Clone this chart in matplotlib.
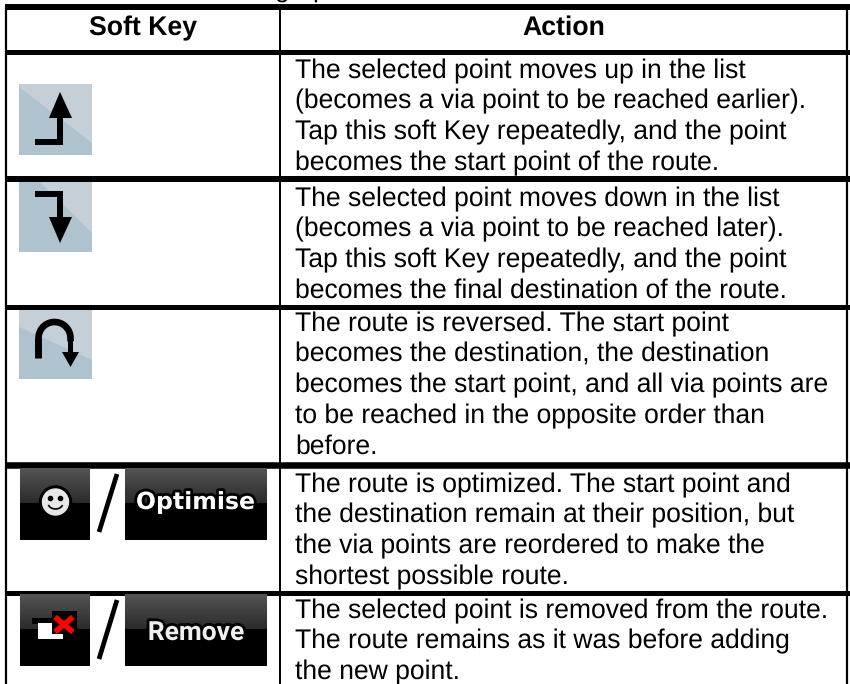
import matplotlib
matplotlib.use('Agg')
import matplotlib.pyplot as plt
import matplotlib.patheffects as pe
import numpy as np
from matplotlib.patches import Rectangle, Polygon

# Table content
headers = ['Soft Key', 'Action']
actions = [
    ['The selected point moves up in the list',
     '(becomes a via point to be reached earlier).',
     'Tap this soft Key repeatedly, and the point',
     'becomes the start point of the route.'],
    ['The selected point moves down in the list',
     '(becomes a via point to be reached later).',
     'Tap this soft Key repeatedly, and the point',
     'becomes the final destination of the route.'],
    ['The route is reversed. The start point',
     'becomes the destination, the destination',
     'becomes the start point, and all via points are',
     'to be reached in the opposite order than',
     'before.'],
    ['The route is optimized. The start point and',
     'the destination remain at their position, but',
     'the via points are reordered to make the',
     'shortest possible route.'],
    ['The selected point is removed from the route.',
     'The route remains as it was before adding',
     'the new point.'],
]
button_labels = ['Optimise', 'Remove']

plt.rcParams['font.family'] = ['Liberation Sans', 'DejaVu Sans']
plt.rcParams['text.hinting'] = 'none'

fig = plt.figure(figsize=(8.5, 6.84), dpi=100)
ax = fig.add_axes([0, 0, 1, 1])
ax.axis('off')

BLACK_HALO = [pe.withStroke(linewidth=4, foreground='black')]


def hline(y, lw):
    ax.plot([5, 850], [y, y], color='black', lw=lw, solid_capstyle='butt')


def vline(x, y0, y1, lw):
    ax.plot([x, x], [y0, y1], color='black', lw=lw, solid_capstyle='butt')


def icon_bg(x0, y0, w, h, dark_pts):
    # two tone pale blue button with a diagonal split
    ax.add_patch(Rectangle((x0, y0), w, h, color='#c4cfd8', lw=0))
    ax.add_patch(Polygon(dark_pts, color='#aec3ce', lw=0))


def dark_button(x0, y0, w, h):
    grad = np.linspace(0.33, 0.17, 32).reshape(-1, 1)
    ax.imshow(grad, extent=[x0, x0 + w, y0 + h * 0.48, y0], cmap='gray', vmin=0, vmax=1, aspect='auto', zorder=2)
    ax.add_patch(Rectangle((x0, y0 + h * 0.48), w, h * 0.52, color='black', lw=0, zorder=2))


def slash(x0, y0, h):
    ax.plot([x0, x0 + 18], [y0 + h, y0], color='black', lw=3.4, zorder=3, solid_capstyle='butt')


# cut off text above the table
ax.text(275, -2.5, 'g', fontsize=19, va='baseline', ha='left', color='black')
ax.text(312, -2.5, 'p', fontsize=19, va='baseline', ha='left', color='black')

# rules
hline(6.5, 4.3)
hline(51.5, 3.6)
hline(179, 4.3)
hline(306.5, 3.6)
hline(465, 4.7)
hline(592.5, 3.6)
vline(6.2, 6, 684, 1.6)
vline(280.2, 6, 684, 1.4)
vline(847.3, 6, 684, 1.6)

ax.text(143, 35, headers[0], fontsize=19.2, fontweight='bold', ha='center', va='baseline')
ax.text(564, 35, headers[1], fontsize=19.2, fontweight='bold', ha='center', va='baseline')

# action text
row_tops = [78, 206, 331, 492, 618]
for top, lines in zip(row_tops, actions):
    for i, line in enumerate(lines):
        ax.text(295, top + i * 30.7, line, fontsize=19.1, ha='left', va='baseline')

# arrow icons
icon_bg(19, 84, 73, 71, [(19, 87), (92, 143), (92, 155), (19, 155)])
ax.plot([35, 60, 60], [142, 142, 115], color='black', lw=4.3, solid_capstyle='butt', solid_joinstyle='miter', zorder=3)
ax.add_patch(Polygon([(60, 92), (72, 118), (49, 118)], color='black', lw=0, zorder=3))

icon_bg(19, 182, 73, 70, [(19, 182), (40, 182), (92, 233), (92, 252), (19, 252)])
ax.plot([35, 60, 60], [194, 194, 222], color='black', lw=4.3, solid_capstyle='butt', solid_joinstyle='miter', zorder=3)
ax.add_patch(Polygon([(60, 243), (72, 217), (49, 217)], color='black', lw=0, zorder=3))

icon_bg(19, 309, 73, 70, [(19, 327), (92, 360), (92, 379), (19, 379)])
ax.plot([38.5, 38.5], [358, 338], color='black', lw=5, solid_capstyle='butt', zorder=3)
ax.plot([70.5, 70.5], [338, 354], color='black', lw=3.6, solid_capstyle='butt', zorder=3)
theta = np.linspace(np.pi, 0, 30)
ax.plot(54.5 + 16 * np.cos(theta), 338 - 16 * np.sin(theta), color='black', lw=4.8, zorder=3)
ax.add_patch(Polygon([(70.5, 367), (79, 352), (62, 352)], color='black', lw=0, zorder=3))

# optimise row
dark_button(20, 468, 70, 72)
dark_button(125, 468, 142, 72)
slash(99, 474, 58)
ax.add_patch(plt.Circle((55.5, 502), 16, color='black', zorder=3))
ax.add_patch(plt.Circle((55.5, 502), 13, color='#e8e8e8', zorder=3))
ax.plot([50.5, 60.5], [498, 498], ls='none', marker='o', ms=3, color='black', zorder=4)
arc = np.linspace(3.6, 5.8, 12)
ax.plot(55.5 + 7.5 * np.cos(arc), 503 - 6 * np.sin(arc), color='black', lw=1.2, zorder=4)
ax.text(195.5, 509, button_labels[0], fontsize=17, fontweight='bold', color='white', family='DejaVu Sans',
        ha='center', va='baseline', zorder=4, path_effects=BLACK_HALO)

# remove row
dark_button(20, 595, 70, 71)
dark_button(125, 595, 142, 71)
slash(99, 600, 59)
ax.add_patch(Rectangle((32, 618), 31, 6, color='black', lw=0, zorder=3))
ax.add_patch(Rectangle((38, 623), 25, 16, color='white', lw=0, zorder=3))
ax.add_patch(Rectangle((52, 611), 25, 23, color='black', lw=0, zorder=4))
ax.plot([55, 73], [617, 632], color='red', lw=4, zorder=5, solid_capstyle='butt')
ax.plot([73, 55], [617, 632], color='red', lw=4, zorder=5, solid_capstyle='butt')
ax.text(196, 640, button_labels[1], fontsize=19, fontweight='bold', color='#f0f0f0',
        family=['Roboto', 'Liberation Sans'], ha='center', va='baseline', zorder=4,
        path_effects=BLACK_HALO)

ax.set_xlim(0, 850)
ax.set_ylim(684, 0)
fig.savefig('out.png', dpi=100, facecolor='white')
